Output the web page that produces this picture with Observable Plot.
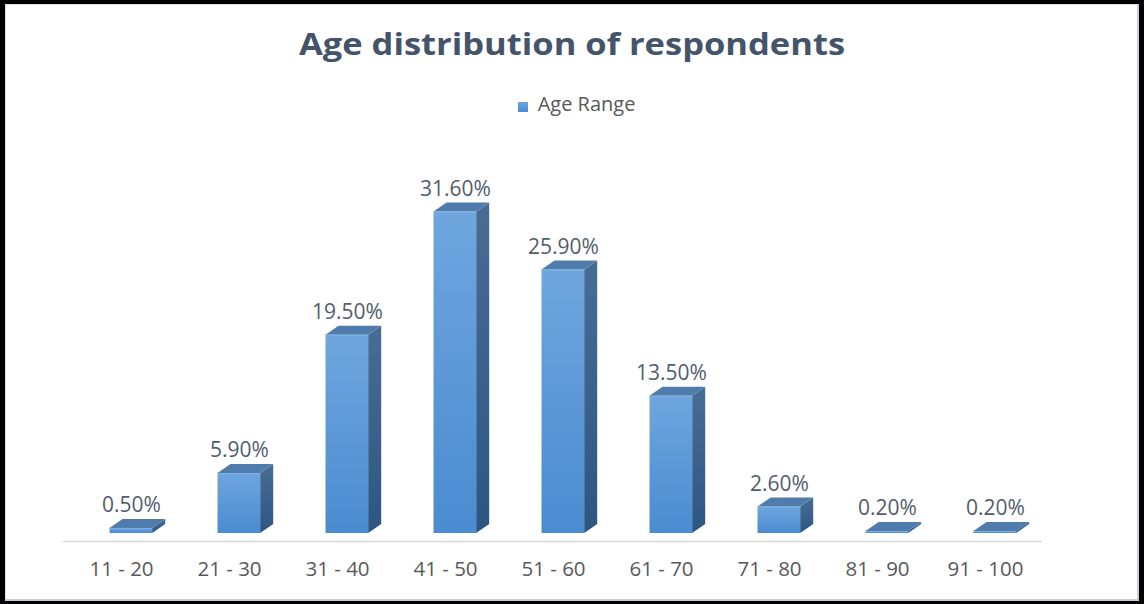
<!DOCTYPE html>
<html>
<head>
<meta charset="utf-8">
<script src="https://cdn.jsdelivr.net/npm/d3@7"></script>
<script src="https://cdn.jsdelivr.net/npm/@observablehq/plot@0.6"></script>
<style>
  html, body { margin: 0; padding: 0; background: #fff; }
  #frame { position: relative; width: 1144px; height: 604px; background: #fff; overflow: hidden; font-family: "Open Sans", sans-serif; }
  #title { position: absolute; left: 0; right: 0; top: 29px; text-align: center; font-size: 30px; line-height: 1; font-weight: 700; color: #44546a; white-space: nowrap; transform: scaleX(1.15); transform-origin: 572px 0; }
  #legend { position: absolute; left: 9px; right: 0; top: 94px; display: flex; justify-content: center; align-items: flex-end; font-size: 20px; line-height: 1; color: #595959; }
  #legend .swatch { width: 10px; height: 10px; margin-right: 10px; margin-bottom: 2px; background: linear-gradient(#6ea4dc, #4a8cd1); }
  #plot { position: absolute; left: 0; top: 130px; }
  #border { position: absolute; inset: 0; box-sizing: border-box; border-style: solid; border-color: #000; border-width: 4px 5px 3px 5px; pointer-events: none; }
  #border::after { content: ""; position: absolute; inset: 0; border: 1px solid #d9dde6; border-right: 2px solid #c9ccd2; border-bottom: 2px solid #c9ccd2; }
</style>
</head>
<body>
<div id="frame">
  <div id="title"></div>
  <div id="legend"><span class="swatch"></span><span id="legend-label"></span></div>
  <div id="plot"></div>
  <div id="border"></div>
</div>
<script>
// Age groups and the share of respondents (%) in each
const ageRanges = ["11 - 20", "21 - 30", "31 - 40", "41 - 50", "51 - 60", "61 - 70", "71 - 80", "81 - 90", "91 - 100"];
const shares = [0.5, 5.9, 19.5, 31.6, 25.9, 13.5, 2.6, 0.2, 0.2];
const seriesName = "Age Range";
const chartTitle = "Age distribution of respondents";

document.getElementById("title").textContent = chartTitle;
document.getElementById("legend-label").textContent = seriesName;

const rows = ageRanges.map((range, i) => ({range, share: shares[i]}));

// depth of the extruded bars, in pixels
const depthX = 13, depthY = 9;

const chart = Plot.plot({
  width: 1144,
  height: 474,
  marginLeft: 63,
  marginRight: 102,
  marginTop: 47,
  marginBottom: 71,
  x: {domain: ageRanges, padding: 0, axis: null},
  y: {domain: [0, 35], axis: null},
  style: {fontFamily: "Open Sans", fontSize: "20px", color: "#595959", background: "transparent", overflow: "visible"},
  marks: [
    Plot.ruleY([0], {dy: 8, stroke: "#d9d9d9", strokeWidth: 1.5}),
    Plot.barY(rows, {x: "range", y: "share", insetLeft: 42.5, insetRight: 22.8, fill: "#5b9bd5"}),
    Plot.text(rows, {x: "range", y: "share", text: d => d.share.toFixed(2) + "%", dx: 10, dy: -16, lineAnchor: "bottom", fontSize: 21, fill: "#525d6b"}),
    Plot.text(ageRanges, {x: d => d, text: d => d, frameAnchor: "bottom", dy: 36, lineAnchor: "middle", fontSize: 20.5, fill: "#595959"})
  ]
});

// gradients for the visible faces of each bar
const svg = d3.select(chart);
const defs = svg.insert("defs", ":first-child");
function gradient(id, top, bottom) {
  const g = defs.append("linearGradient").attr("id", id).attr("x1", 0).attr("y1", 0).attr("x2", 0).attr("y2", 1);
  g.append("stop").attr("offset", "0%").attr("stop-color", top);
  g.append("stop").attr("offset", "100%").attr("stop-color", bottom);
}
gradient("bar-front", "#6fa6de", "#4a8bd1");
gradient("bar-side", "#486d95", "#2c5682");

// extrude every bar rectangle into a 3D column: right side face and top face
const fronts = Array.from(chart.querySelectorAll("rect")).filter(r => !r.closest("defs"));
fronts.forEach(node => {
  const x = +node.getAttribute("x"), y = +node.getAttribute("y");
  const w = +node.getAttribute("width"), h = +node.getAttribute("height");
  const g = d3.select(node.parentNode);
  node.setAttribute("fill", "url(#bar-front)");
  const xr = x + w, yb = y + h;
  g.append("polygon")
    .attr("points", [[xr, y], [xr + depthX, y - depthY], [xr + depthX, yb - depthY], [xr, yb]].join(" "))
    .attr("fill", "url(#bar-side)");
  g.append("polygon")
    .attr("points", [[x, y], [xr, y], [xr + depthX, y - depthY], [x + depthX, y - depthY]].join(" "))
    .attr("fill", "#507cad");
  g.append("line")
    .attr("x1", x).attr("x2", xr).attr("y1", y + 0.5).attr("y2", y + 0.5)
    .attr("stroke", "#7fb2e4").attr("stroke-width", 1);
});

document.getElementById("plot").appendChild(chart);
</script>
</body>
</html>
